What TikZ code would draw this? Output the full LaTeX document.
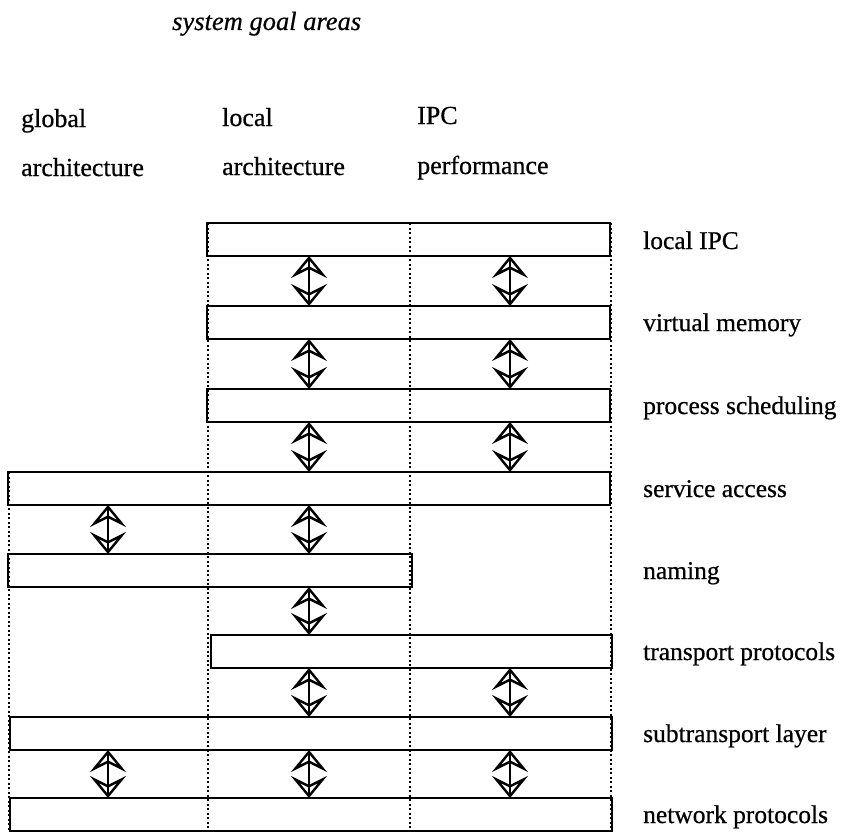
\documentclass[tikz,border=0pt]{standalone}
\usepackage{fontspec}
\setmainfont{Liberation Serif}[FakeBold=0.6]
\usetikzlibrary{arrows.meta}
\tikzset{dhead/.tip={Stealth[open, length=22pt, width=36pt, inset=9pt, line width=2.4pt]}}
\begin{document}
\begin{tikzpicture}[x=1pt,y=-1pt,
  bar/.style={draw, line width=2pt, inner sep=0pt, outer sep=0pt, anchor=north west, minimum height=33pt},
  guide/.style={line width=1.5pt, dash pattern=on 2pt off 2.5pt},
  lbl/.style={anchor=base west, inner sep=0pt, font=\fontsize{25.5}{30}\selectfont},
  hdr/.style={anchor=base west, inner sep=0pt, font=\fontsize{26}{30}\selectfont},
  dbl/.style={line width=1.2pt, dhead-dhead, preaction={draw, arrows=-, line width=1.2pt}}
]
\useasboundingbox (0,0) rectangle (847,835);
% title and headers
\node[hdr, font=\fontsize{26.5}{30}\selectfont\itshape] (title) at (172,30) {system goal areas};
\node[hdr] (h1a) at (21,127) {global};
\node[hdr] (h1b) at (21,176) {architecture};
\node[hdr] (h2a) at (222,126) {local};
\node[hdr] (h2b) at (222,175) {architecture};
\node[hdr] (h3a) at (417,124) {IPC};
\node[hdr] (h3b) at (417,174) {performance};
% guide coordinates
\coordinate (cG) at (108,0);
\coordinate (cL) at (309,0);
\coordinate (cI) at (510,0);
\coordinate (g0t) at (9,472);   \coordinate (g0b) at (9,831);
\coordinate (g1t) at (208,223); \coordinate (g1b) at (208,831);
\coordinate (g2t) at (410,223); \coordinate (g2b) at (410,831);
\coordinate (g3t) at (611,223); \coordinate (g3b) at (611,831);
\draw[guide] (g0t) -- (g0b);
\draw[guide] (g1t) -- (g1b);
\draw[guide] (g2t) -- (g2b);
\draw[guide] (g3t) -- (g3b);
% bars
\node[bar, minimum width=403pt] (ipc)  at (207,223) {};
\node[bar, minimum width=403pt] (vm)   at (207,306) {};
\node[bar, minimum width=403pt] (proc) at (207,389) {};
\node[bar, minimum width=602pt] (serv) at (8,472) {};
\node[bar, minimum width=404pt] (nam)  at (8,554) {};
\node[bar, minimum width=401pt] (trp)  at (211,635) {};
\node[bar, minimum width=602pt] (sub)  at (10,717) {};
\node[bar, minimum width=602pt] (net)  at (10,798) {};
% right labels
\node[lbl] (l1) at (643,249) {local IPC};
\node[lbl] (l2) at (643,331) {virtual memory};
\node[lbl] (l3) at (643,414) {process scheduling};
\node[lbl] (l4) at (643,497) {service access};
\node[lbl] (l5) at (643,579) {naming};
\node[lbl] (l6) at (643,660) {transport protocols};
\node[lbl] (l7) at (643,742) {subtransport layer};
\node[lbl] (l8) at (643,823) {network protocols};
% double arrows
\draw[dbl] (ipc.south -| cL) -- (vm.north -| cL);
\draw[dbl] (ipc.south -| cI) -- (vm.north -| cI);
\draw[dbl] (vm.south -| cL) -- (proc.north -| cL);
\draw[dbl] (vm.south -| cI) -- (proc.north -| cI);
\draw[dbl] (proc.south -| cL) -- (serv.north -| cL);
\draw[dbl] (proc.south -| cI) -- (serv.north -| cI);
\draw[dbl] (serv.south -| cG) -- (nam.north -| cG);
\draw[dbl] (serv.south -| cL) -- (nam.north -| cL);
\draw[dbl] (nam.south -| cL) -- (trp.north -| cL);
\draw[dbl] (trp.south -| cL) -- (sub.north -| cL);
\draw[dbl] (trp.south -| cI) -- (sub.north -| cI);
\draw[dbl] (sub.south -| cG) -- (net.north -| cG);
\draw[dbl] (sub.south -| cL) -- (net.north -| cL);
\draw[dbl] (sub.south -| cI) -- (net.north -| cI);
\end{tikzpicture}
\end{document}
